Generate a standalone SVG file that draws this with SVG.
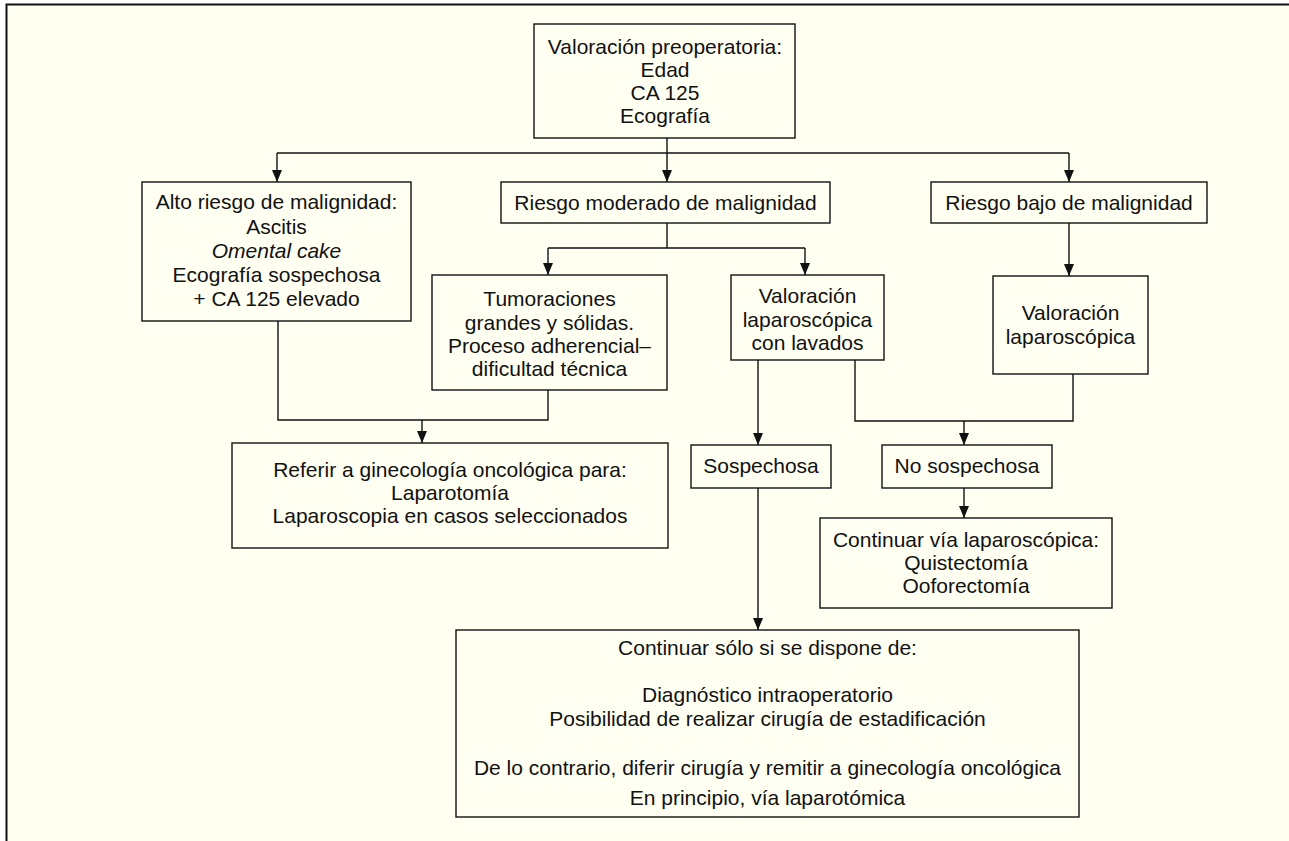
<svg xmlns="http://www.w3.org/2000/svg" width="1289" height="841" viewBox="0 0 1289 841">
<defs>
<style>
.box{fill:none;stroke:#111;stroke-width:1.4}
.t{font-family:"Liberation Sans",Arial,Helvetica,sans-serif;font-size:21px;fill:#111;text-anchor:middle}
.c{fill:none;stroke:#111;stroke-width:1.4}
.a{marker-end:url(#ar)}
.i{font-style:italic}
</style>
<marker id="ar" markerUnits="userSpaceOnUse" markerWidth="12" markerHeight="10" viewBox="0 0 12 10" refX="12" refY="5" orient="auto">
<path d="M0,0 L12,5 L0,10 Z" fill="#111"/>
</marker>
</defs>
<rect x="0" y="0" width="1289" height="841" fill="#ffffff"/>
<rect x="6.5" y="4.5" width="1283" height="837" fill="#fffff2"/>
<path d="M6.5,841 L6.5,4.5 L1289,4.5" fill="none" stroke="#111" stroke-width="2"/>

<g id="connectors">
<path class="c a" d="M667,138 V182"/>
<path class="c" d="M277,153 H1069"/>
<path class="c a" d="M277,153 V182"/>
<path class="c a" d="M1069,153 V182"/>
<path class="c" d="M667,223 V248 M548,248 H805"/>
<path class="c a" d="M548,248 V275"/>
<path class="c a" d="M805,248 V275"/>
<path class="c a" d="M1069,223 V276"/>
<path class="c" d="M278,321 V420 H548 V390"/>
<path class="c a" d="M422,420 V443"/>
<path class="c a" d="M758,360 V445"/>
<path class="c" d="M855,360 V421 H1073 V374"/>
<path class="c a" d="M964,421 V445"/>
<path class="c a" d="M964,488 V518"/>
<path class="c a" d="M758,488 V630"/>
</g>

<g id="n-valoracion">
<rect class="box" x="534" y="24" width="261" height="114"/>
<text class="t" x="665" y="54">Valoración preoperatoria:</text>
<text class="t" x="665" y="77">Edad</text>
<text class="t" x="665" y="100">CA 125</text>
<text class="t" x="665" y="123">Ecografía</text>
</g>

<g id="n-alto">
<rect class="box" x="142" y="182" width="269" height="139"/>
<text class="t" x="276.5" y="209">Alto riesgo de malignidad:</text>
<text class="t" x="276.5" y="233.5">Ascitis</text>
<text class="t i" x="276.5" y="257.5">Omental cake</text>
<text class="t" x="276.5" y="281.5">Ecografía sospechosa</text>
<text class="t" x="276.5" y="305.5">+ CA 125 elevado</text>
</g>

<g id="n-moderado">
<rect class="box" x="501" y="182" width="329" height="41"/>
<text class="t" x="665.5" y="210">Riesgo moderado de malignidad</text>
</g>

<g id="n-bajo">
<rect class="box" x="931" y="182" width="276" height="41"/>
<text class="t" x="1069" y="210">Riesgo bajo de malignidad</text>
</g>

<g id="n-tumoraciones">
<rect class="box" x="432" y="275" width="235" height="115"/>
<text class="t" x="549.5" y="306">Tumoraciones</text>
<text class="t" x="549.5" y="330">grandes y sólidas.</text>
<text class="t" x="549.5" y="353">Proceso adherencial–</text>
<text class="t" x="549.5" y="376">dificultad técnica</text>
</g>

<g id="n-lavados">
<rect class="box" x="731" y="275" width="153" height="85"/>
<text class="t" x="807.5" y="303">Valoración</text>
<text class="t" x="807.5" y="327">laparoscópica</text>
<text class="t" x="807.5" y="350">con lavados</text>
</g>

<g id="n-laparoscopica">
<rect class="box" x="993" y="276" width="155" height="98"/>
<text class="t" x="1070.5" y="320">Valoración</text>
<text class="t" x="1070.5" y="344">laparoscópica</text>
</g>

<g id="n-referir">
<rect class="box" x="232" y="443" width="436" height="105"/>
<text class="t" x="450" y="477">Referir a ginecología oncológica para:</text>
<text class="t" x="450" y="500">Laparotomía</text>
<text class="t" x="450" y="523">Laparoscopia en casos seleccionados</text>
</g>

<g id="n-sospechosa">
<rect class="box" x="691" y="445" width="140" height="43"/>
<text class="t" x="761" y="473">Sospechosa</text>
</g>

<g id="n-nosospechosa">
<rect class="box" x="882" y="445" width="170" height="43"/>
<text class="t" x="967" y="473">No sospechosa</text>
</g>

<g id="n-continuar-via">
<rect class="box" x="820" y="518" width="292" height="90"/>
<text class="t" x="966" y="547">Continuar vía laparoscópica:</text>
<text class="t" x="966" y="570">Quistectomía</text>
<text class="t" x="966" y="593">Ooforectomía</text>
</g>

<g id="n-continuar-solo">
<rect class="box" x="456" y="630" width="623" height="187"/>
<text class="t" x="767.5" y="655">Continuar sólo si se dispone de:</text>
<text class="t" x="767.5" y="702">Diagnóstico intraoperatorio</text>
<text class="t" x="767.5" y="726">Posibilidad de realizar cirugía de estadificación</text>
<text class="t" x="767.5" y="775">De lo contrario, diferir cirugía y remitir a ginecología oncológica</text>
<text class="t" x="767.5" y="805">En principio, vía laparotómica</text>
</g>
</svg>
